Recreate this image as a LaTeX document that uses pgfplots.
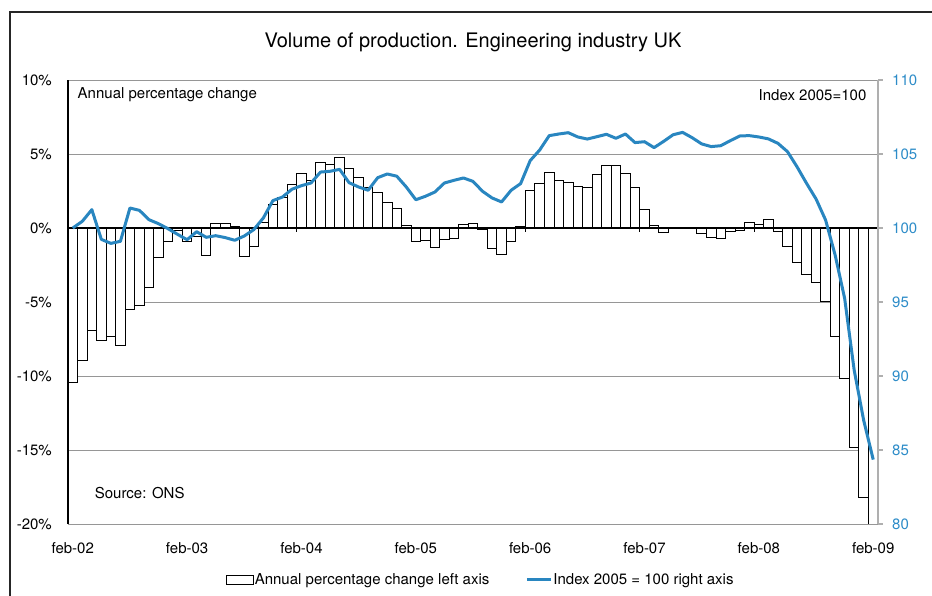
\documentclass[border=0pt]{standalone}
\usepackage{fontspec}
\setmainfont{TeX Gyre Heros}
\usepackage{pgfplots}
\pgfplotsset{compat=1.18}
\definecolor{lineblue}{RGB}{41,134,192}
\definecolor{labelblue}{RGB}{45,140,200}
\definecolor{gridgray}{RGB}{150,150,150}
\definecolor{axgray}{RGB}{175,175,175}
\pgfplotstableread{
k v
0 -10.45
1 -8.92
2 -6.91
3 -7.61
4 -7.36
5 -7.95
6 -5.52
7 -5.23
8 -3.99
9 -1.98
10 -0.90
11 -0.15
12 -0.88
13 -0.60
14 -1.85
15 0.29
16 0.34
17 0.09
18 -1.89
19 -1.28
20 0.40
21 1.58
22 2.09
23 2.96
24 3.69
25 3.19
26 4.41
27 4.32
28 4.75
29 3.99
30 3.40
31 2.77
32 2.43
33 1.71
34 1.33
35 0.20
36 -0.90
37 -0.83
38 -1.33
39 -0.77
40 -0.72
41 0.27
42 0.34
43 -0.11
44 -1.35
45 -1.80
46 -0.90
47 0.11
48 2.55
49 3.04
50 3.72
51 3.18
52 3.11
53 2.79
54 2.77
55 3.60
56 4.23
57 4.23
58 3.69
59 2.75
60 1.26
61 0.16
62 -0.32
63 -0.02
64 0.02
65 -0.04
66 -0.34
67 -0.61
68 -0.72
69 -0.20
70 -0.16
71 0.40
72 0.23
73 0.57
74 -0.20
75 -1.24
76 -2.36
77 -3.15
78 -3.65
79 -4.95
80 -7.34
81 -10.16
82 -14.82
83 -18.18
84 -21.00
}\pcttable
\pgfplotstableread{
k v
0 100.00
1 100.45
2 101.24
3 99.23
4 98.96
5 99.10
6 101.35
7 101.19
8 100.56
9 100.29
10 99.95
11 99.57
12 99.21
13 99.75
14 99.37
15 99.48
16 99.35
17 99.17
18 99.46
19 99.89
20 100.68
21 101.85
22 102.09
23 102.62
24 102.86
25 103.04
26 103.78
27 103.83
28 103.96
29 103.06
30 102.77
31 102.55
32 103.40
33 103.65
34 103.50
35 102.77
36 101.91
37 102.14
38 102.43
39 103.04
40 103.22
41 103.38
42 103.15
43 102.48
44 102.03
45 101.76
46 102.55
47 103.00
48 104.55
49 105.27
50 106.24
51 106.35
52 106.44
53 106.15
54 106.01
55 106.17
56 106.33
57 106.06
58 106.35
59 105.77
60 105.83
61 105.43
62 105.85
63 106.30
64 106.46
65 106.10
66 105.68
67 105.50
68 105.56
69 105.90
70 106.22
71 106.24
72 106.15
73 106.02
74 105.72
75 105.16
76 104.14
77 103.02
78 101.96
79 100.54
80 98.18
81 95.25
82 90.40
83 87.00
84 84.35
}\idxtable
\begin{document}
\begin{tikzpicture}[x=1pt,y=1pt]
\path[use as bounding box] (0,0) rectangle (932,596);
\draw[line width=1.2pt, black!85] (10,0) -- (10,584) -- (932,584);
\node[font=\fontsize{20}{24}\selectfont] at (473,554) {Volume of production. Engineering industry UK};
\begin{axis}[
  at={(68pt,72pt)}, anchor=south west,
  scale only axis, width=810pt, height=444pt,
  xmin=-0.5, xmax=84.5, ymin=-20, ymax=10,
  clip mode=individual,
  axis line style={draw=none},
  xtick={0,12,24,36,48,60,72,84},
  xticklabels={feb-02,feb-03,feb-04,feb-05,feb-06,feb-07,feb-08,feb-09},
  ytick={-20,-15,-10,-5,0,5,10},
  yticklabels={-20\%,-15\%,-10\%,-5\%,0\%,5\%,10\%},
  major tick length=0pt,
  tick style={draw=none},
  ymajorgrids, grid style={gridgray, line width=0.9pt},
  ticklabel style={font=\fontsize{15}{18}\selectfont, inner sep=0pt},
  yticklabel style={anchor=east, xshift=-16pt},
  xticklabel style={anchor=north, yshift=-18pt},
]
\addplot[ybar, bar width=1, bar shift=0pt, fill=white, draw=black, line width=0.9pt] table[x=k, y=v] {\pcttable};
\draw[black, line width=1.1pt] (axis cs:-0.5,0) -- (axis cs:84.5,0);
\draw[black, line width=1.1pt] (axis cs:-0.5,-20) -- (axis cs:-0.5,10);
\pgfplotsinvokeforeach{11.5,23.5,35.5,47.5,59.5,71.5,83.5}{
  \draw[black, line width=0.8pt] (axis cs:#1,0) -- ([yshift=-4pt]axis cs:#1,0);
}
\node[anchor=west, font=\fontsize{15}{18}\selectfont, inner sep=0pt] at (axis cs:0.5,9) {Annual percentage change};
\node[anchor=east, font=\fontsize{15}{18}\selectfont, inner sep=0pt] at (axis cs:83.3,9) {Index 2005=100};
\node[anchor=west, font=\fontsize{15}{18}\selectfont, inner sep=0pt] at (axis cs:2.3,-17.9) {Source: ONS};
\end{axis}
\begin{axis}[
  at={(68pt,72pt)}, anchor=south west,
  scale only axis, width=810pt, height=444pt,
  xmin=-0.5, xmax=84.5, ymin=80, ymax=110,
  axis x line=none, axis y line*=right,
  y axis line style={axgray, line width=1.1pt},
  ytick={80,85,90,95,100,105,110},
  yticklabels={80,85,90,95,100,105,110},
  tick align=outside, major tick length=5pt,
  ytick style={axgray, line width=1.1pt},
  yticklabel style={font=\fontsize{15}{18}\selectfont, text=labelblue, anchor=west, inner sep=0pt, xshift=9pt},
  legend columns=2,
  legend style={at={(0.509,-0.126)}, anchor=center, draw=none, fill=none,
    font=\fontsize{15}{18}\selectfont, nodes={inner sep=1pt},
    /tikz/every even column/.append style={column sep=35pt}},
]
\addlegendimage{legend image code/.code={\draw[black, fill=white, line width=0.8pt] (0pt,-4.5pt) rectangle (27pt,4.5pt);}}
\addlegendentry{Annual percentage change left axis}
\addplot[lineblue, line width=3pt, line join=round, mark=none,
  legend image code/.code={\draw[lineblue, line width=3pt] (0pt,0pt) -- (24pt,0pt);}] table[x=k, y=v] {\idxtable};
\addlegendentry{Index 2005 = 100 right axis}
\end{axis}
\end{tikzpicture}
\end{document}
